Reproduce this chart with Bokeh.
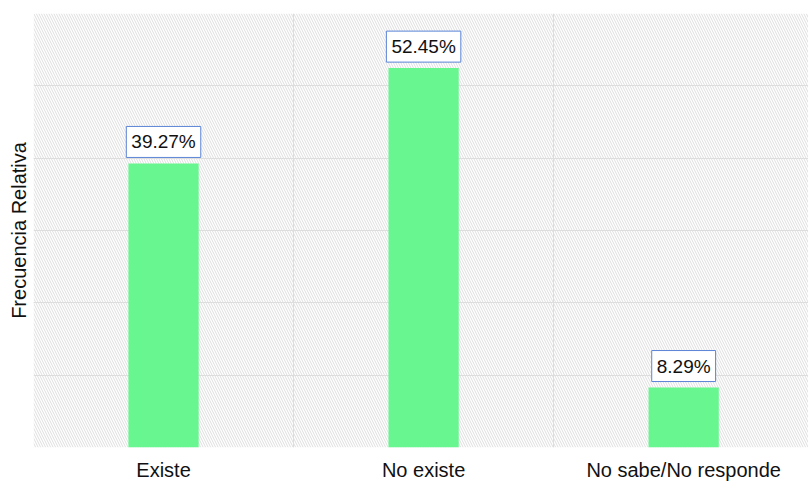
from bokeh.plotting import figure
from bokeh.models import ColumnDataSource, FixedTicker, BoxAnnotation, Range1d
from bokeh.core.properties import value
from bokeh.embed import file_html
from bokeh.resources import INLINE

categories = ["Existe", "No existe", "No sabe/No responde"]
values = [39.27, 52.45, 8.29]
labels = ["39.27%", "52.45%", "8.29%"]
y_grid = [0, 10, 20, 30, 40, 50, 60]

xs = [i + 0.5 for i in range(len(categories))]
src = ColumnDataSource(dict(x=xs, top=values, label=labels))

p = figure(width=808, height=483, output_backend="svg", toolbar_location=None,
           x_range=Range1d(0, 2.98), y_range=Range1d(0, 60),
           min_border_left=33, min_border_top=13, min_border_bottom=35, min_border_right=0)

p.outline_line_color = None
p.background_fill_color = "white"
p.border_fill_color = "white"

# hatched background
p.add_layout(BoxAnnotation(fill_alpha=0, line_alpha=0, hatch_pattern="\\",
                           hatch_color="#dedede", hatch_scale=5, hatch_weight=1,
                           level="underlay"))

p.vbar(x="x", top="top", width=0.27, source=src, fill_color="#68F690", line_color=None)

p.text(x="x", y="top", text="label", source=src, text_align="center",
       text_baseline="bottom", y_offset=-6, text_font=value("Liberation Sans"),
       text_font_size="19px", text_color="#111111",
       background_fill_color="white", border_line_color="#5b84d6",
       border_line_width=1, padding=5)

p.xaxis.ticker = FixedTicker(ticks=xs)
p.xaxis.major_label_overrides = {x: c for x, c in zip(xs, categories)}
p.xaxis.major_label_text_font = "Liberation Sans"
p.xaxis.major_label_text_font_size = "20px"
p.xaxis.major_label_text_color = "#111111"
p.xaxis.axis_line_color = None
p.xaxis.major_tick_line_color = None
p.xaxis.minor_tick_line_color = None
p.xaxis.major_tick_out = 0
p.xaxis.major_label_standoff = 11

p.yaxis.ticker = FixedTicker(ticks=[])
p.yaxis.axis_line_color = None
p.yaxis.major_tick_line_color = None
p.yaxis.minor_tick_line_color = None
p.yaxis.major_tick_out = 0
p.yaxis.axis_label = "Frecuencia Relativa"
p.yaxis.axis_label_text_font = "Liberation Sans"
p.yaxis.axis_label_text_font_size = "20px"
p.yaxis.axis_label_text_font_style = "normal"
p.yaxis.axis_label_text_color = "#111111"
p.yaxis.axis_label_standoff = 4

p.xgrid.ticker = FixedTicker(ticks=list(range(len(categories) + 1)))
p.ygrid.ticker = FixedTicker(ticks=y_grid)
p.xgrid.grid_line_color = "#dddddd"
p.ygrid.grid_line_color = "#dddddd"

open("out.html", "w").write(file_html(p, INLINE))
